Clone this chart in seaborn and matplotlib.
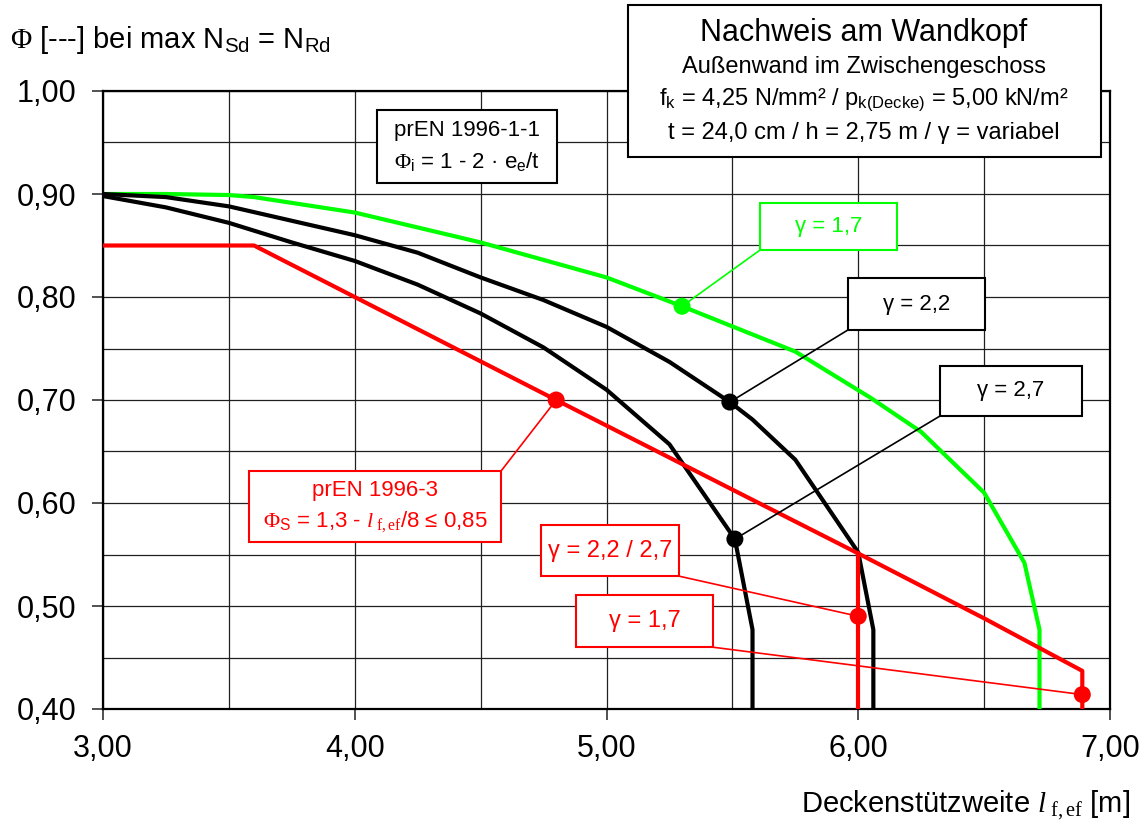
import numpy as np
import pandas as pd
import matplotlib
matplotlib.use("Agg")
import matplotlib.pyplot as plt
from matplotlib.patches import Rectangle
from matplotlib.ticker import MultipleLocator, FuncFormatter
import seaborn as sns

# curve data
green_x = [3.00, 3.25, 3.50, 3.60, 4.00, 4.50, 5.00, 5.30, 5.75, 6.05, 6.25, 6.50, 6.66, 6.72, 6.72]
green_y = [0.900, 0.900, 0.899, 0.897, 0.882, 0.853, 0.819, 0.791, 0.747, 0.702, 0.669, 0.610, 0.542, 0.477, 0.400]

black22_x = [3.00, 3.25, 3.50, 3.75, 4.00, 4.25, 4.50, 4.75, 5.00, 5.25, 5.49, 5.58, 5.75, 6.00, 6.06, 6.06]
black22_y = [0.900, 0.897, 0.888, 0.874, 0.860, 0.843, 0.819, 0.797, 0.771, 0.737, 0.698, 0.681, 0.642, 0.552, 0.477, 0.400]

black27_x = [3.00, 3.25, 3.50, 3.75, 4.00, 4.25, 4.50, 4.75, 5.00, 5.25, 5.51, 5.58, 5.58]
black27_y = [0.898, 0.887, 0.872, 0.853, 0.835, 0.812, 0.784, 0.751, 0.710, 0.657, 0.565, 0.477, 0.400]

red_x = [3.00, 3.60, 4.80, 5.50, 6.00, 6.50, 6.89, 6.89]
red_y = [0.850, 0.850, 0.700, 0.613, 0.551, 0.488, 0.437, 0.400]

redv_x = [6.00, 6.00]
redv_y = [0.551, 0.400]

# highlighted points
pt_green = (5.30, 0.791)
pt_b22 = (5.49, 0.698)
pt_b27 = (5.51, 0.565)
pt_red_en = (4.80, 0.700)
pt_red_22 = (6.00, 0.490)
pt_red_17 = (6.89, 0.414)

GREEN = "#00ff00"
RED = "#ff0000"

sns.set_theme(style="white")
plt.rcParams['font.family'] = ['Liberation Sans', 'DejaVu Sans']
plt.rcParams['mathtext.fontset'] = 'custom'
plt.rcParams['mathtext.rm'] = 'Liberation Serif'
plt.rcParams['mathtext.it'] = 'Liberation Serif:italic'
plt.rcParams['mathtext.sf'] = 'Liberation Sans'
plt.rcParams['text.color'] = 'black'
plt.rcParams['xtick.color'] = 'black'
plt.rcParams['ytick.color'] = 'black'

fig = plt.figure(figsize=(11.45, 8.25), dpi=100)
ax = fig.add_axes([103 / 1145, 1 - 709 / 825, 1007 / 1145, 618 / 825])

lw = 3.0
sns.lineplot(x=green_x, y=green_y, sort=False, estimator=None, color=GREEN, lw=lw, ax=ax, zorder=3)
sns.lineplot(x=black22_x, y=black22_y, sort=False, estimator=None, color="black", lw=lw, ax=ax, zorder=3)
sns.lineplot(x=black27_x, y=black27_y, sort=False, estimator=None, color="black", lw=lw, ax=ax, zorder=3)
sns.lineplot(x=red_x, y=red_y, sort=False, estimator=None, color=RED, lw=lw, ax=ax, zorder=3)
sns.lineplot(x=redv_x, y=redv_y, sort=False, estimator=None, color=RED, lw=lw, ax=ax, zorder=3)

pts = pd.DataFrame([pt_green, pt_b22, pt_b27, pt_red_en, pt_red_22, pt_red_17], columns=["x", "y"])
pts["c"] = [GREEN, "black", "black", RED, RED, RED]
for _, r in pts.iterrows():
    sns.scatterplot(x=[r.x], y=[r.y], color=r.c, s=150, edgecolor="none", ax=ax, zorder=6, clip_on=False)

ax.set_xlim(3, 7)
ax.set_ylim(0.4, 1.0)
ax.xaxis.set_major_locator(MultipleLocator(1.0))
ax.xaxis.set_minor_locator(MultipleLocator(0.5))
ax.yaxis.set_major_locator(MultipleLocator(0.1))
ax.yaxis.set_minor_locator(MultipleLocator(0.05))
fmt = FuncFormatter(lambda v, p: f"{v:.2f}".replace(".", ","))
ax.xaxis.set_major_formatter(fmt)
ax.yaxis.set_major_formatter(fmt)
ax.grid(which="both", color="#202020", lw=0.9, zorder=0)
ax.set_axisbelow(True)
ax.tick_params(which="major", direction="out", length=8, width=1.2, color="#333333",
               labelsize=22, left=True, bottom=True)
ax.tick_params(axis="y", pad=11)
ax.tick_params(axis="x", pad=10)
ax.tick_params(which="minor", length=0)
for s in ax.spines.values():
    s.set_color("black")
    s.set_linewidth(1.6)
ax.set_xlabel("")
ax.set_ylabel("")


def box(x0, y0, x1, y1, text, color, size=16, tcolor=None):
    ax.add_patch(Rectangle((x0, y0), x1 - x0, y1 - y0, fc="white", ec=color, lw=1.5, zorder=7))
    ax.text((x0 + x1) / 2, (y0 + y1) / 2, text, color=tcolor or color, fontsize=size,
            ha="center", va="center", zorder=8, linespacing=1.45)


def leader(start, end, color):
    ax.annotate("", xy=end, xytext=start,
                arrowprops=dict(arrowstyle="-", color=color, lw=1.2, shrinkA=0, shrinkB=0), zorder=5)


# labels with leader lines
box(5.610, 0.8456, 6.154, 0.891, "γ = 1,7", GREEN, size=16)
leader((5.610, 0.8456), pt_green, GREEN)

box(5.959, 0.768, 6.503, 0.8184, "γ = 2,2", "black", size=16)
leader((5.959, 0.768), pt_b22, "black")

box(6.325, 0.6845, 6.889, 0.733, "γ = 2,7", "black", size=16)
leader((6.325, 0.6845), pt_b27, "black")

box(3.580, 0.562, 4.581, 0.631,
    "prEN 1996-3\n$\\Phi_{\\mathsf{S}}$ = 1,3 - $\\mathit{l}_{\\ \\mathrm{f,ef}}$/8 ≤ 0,85", RED, size=16)
leader((4.581, 0.631), pt_red_en, RED)

box(4.740, 0.529, 5.288, 0.5786, "γ = 2,2 / 2,7", RED, size=17)
leader((5.288, 0.529), pt_red_22, RED)

box(4.879, 0.460, 5.423, 0.5107, "γ = 1,7", RED, size=17)
leader((5.423, 0.460), pt_red_17, RED)

box(4.088, 0.9107, 4.803, 0.9816,
    "prEN 1996-1-1\n$\\Phi_{\\mathsf{i}}$ = 1 - 2 · e$_{\\mathsf{e}}$/t", "black", size=16)

# title box in figure coordinates
fig.patches.append(Rectangle((628 / 1145, 1 - 157 / 825), 473 / 1145, 152 / 825,
                             transform=fig.transFigure, fc="white", ec="black", lw=1.5, zorder=10))
cx = 864 / 1145
fig.text(cx, 1 - 33 / 825, "Nachweis am Wandkopf", fontsize=22, ha="center", va="center", zorder=11)
fig.text(cx, 1 - 67 / 825, "Außenwand im Zwischengeschoss", fontsize=17, ha="center", va="center", zorder=11)
fig.text(cx, 1 - 100 / 825,
         "f$_{\\mathsf{k}}$ = 4,25 N/mm² / p$_{\\mathsf{k(Decke)}}$ = 5,00 kN/m²",
         fontsize=17, ha="center", va="center", zorder=11)
fig.text(cx, 1 - 133 / 825, "t = 24,0 cm / h = 2,75 m / γ = variabel",
         fontsize=17, ha="center", va="center", zorder=11)

# axis titles
fig.text(10 / 1145, 1 - 40 / 825, "$\\Phi$ [---] bei max N$_{\\mathsf{Sd}}$ = N$_{\\mathsf{Rd}}$",
         fontsize=21, ha="left", va="center")
fig.text(1130 / 1145, 1 - 805 / 825, "Deckenstützweite $\\mathit{l}_{\\ \\mathrm{f,ef}}$ [m]",
         fontsize=21, ha="right", va="center")

fig.savefig("out.png", dpi=100)
